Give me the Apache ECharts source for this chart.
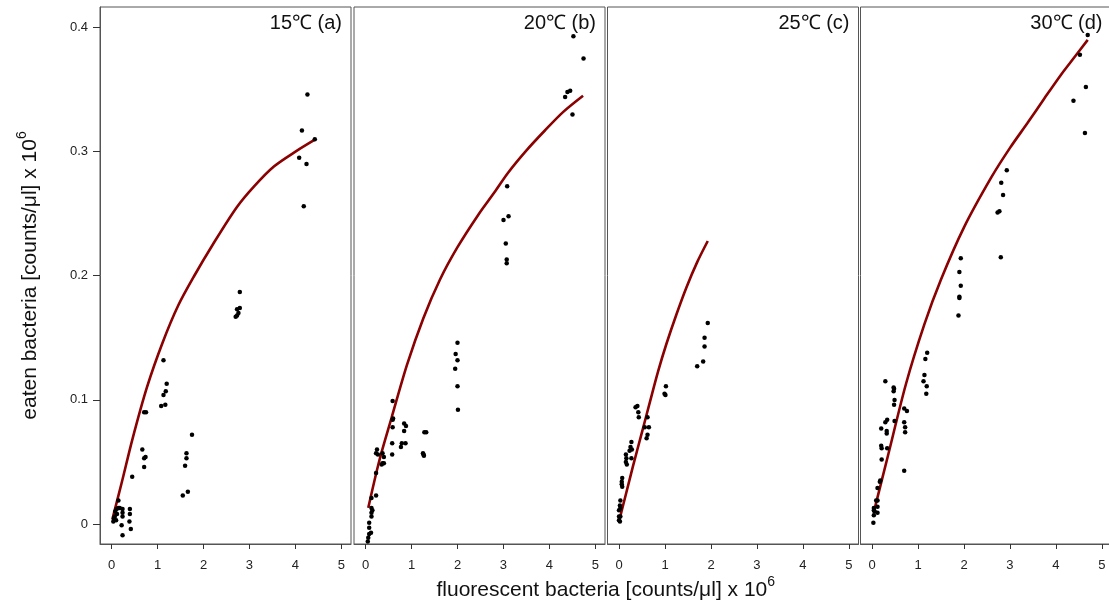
<!DOCTYPE html>
<html>
<head>
<meta charset="utf-8">
<script src="https://cdn.jsdelivr.net/npm/echarts@6/dist/echarts.min.js"></script>
<style>
  html, body { margin: 0; padding: 0; background: #fff; }
  #chart { width: 1109px; height: 607px; }
</style>
</head>
<body>
<div id="chart"></div>
<script>
// Tick positions and labels
const xTicks = [0, 1, 2, 3, 4, 5];
const yTicks = [0, 0.1, 0.2, 0.3, 0.4];
const panelTitles = ['15\u2103 (a)', '20\u2103 (b)', '25\u2103 (c)', '30\u2103 (d)'];

// Observed grazing: [fluorescent bacteria, eaten bacteria] (x 10^6 counts/µl)
const obs15 = [
  [4.26,0.346],[4.14,0.317],[4.42,0.310],[4.08,0.295],[4.24,0.290],[4.18,0.256],
  [2.79,0.187],[2.79,0.174],[2.73,0.173],[2.76,0.170],[2.73,0.168],[2.70,0.167],
  [1.13,0.132],[1.20,0.113],[1.18,0.107],[1.13,0.104],[1.08,0.095],[1.17,0.096],
  [0.71,0.090],[0.75,0.090],[1.75,0.072],[0.67,0.060],[0.71,0.053],[0.74,0.054],[0.71,0.046],
  [1.63,0.057],[1.63,0.053],[1.60,0.047],[1.66,0.026],[1.55,0.023],
  [0.45,0.038],[0.15,0.019],[0.15,0.013],[0.18,0.013],[0.11,0.012],[0.24,0.012],[0.40,0.012],
  [0.24,0.009],[0.40,0.008],[0.24,0.006],[0.39,0.002],[0.22,-0.001],[0.42,-0.004],[0.24,-0.009],
  [0.05,0.004],[0.07,0.006],[0.10,0.003],[0.12,0.008],[0.08,0.010],[0.04,0.002],[0.06,0.005]
];
const obs20 = [
  [4.52,0.393],[4.74,0.375],[4.45,0.349],[4.39,0.348],[4.34,0.344],[4.50,0.330],
  [3.08,0.272],[3.00,0.245],[3.11,0.248],[3.05,0.226],[3.07,0.213],[3.07,0.210],
  [2.00,0.146],[1.96,0.137],[2.00,0.132],[1.95,0.125],[2.00,0.111],[2.01,0.092],
  [0.59,0.099],[0.60,0.085],[0.59,0.084],[0.59,0.078],[0.84,0.081],[0.88,0.079],[0.84,0.075],
  [1.28,0.074],[1.32,0.074],[0.58,0.065],[0.79,0.065],[0.87,0.065],[0.77,0.062],[0.58,0.056],
  [1.25,0.057],[1.27,0.055],[1.26,0.056],[0.25,0.060],[0.23,0.057],[0.27,0.056],[0.37,0.057],[0.40,0.054],
  [0.37,0.049],[0.35,0.048],[0.40,0.049],[0.23,0.041],[0.23,0.023],[0.13,0.021],
  [0.13,0.013],[0.15,0.011],[0.13,0.009],[0.13,0.006],[0.08,0.001],[0.08,-0.003],
  [0.12,-0.007],[0.08,-0.008],[0.06,-0.011],[0.05,-0.014]
];
const obs25 = [
  [1.93,0.162],[1.86,0.150],[1.86,0.143],[1.83,0.131],[1.70,0.127],
  [1.02,0.111],[0.99,0.105],[1.01,0.104],
  [0.36,0.094],[0.40,0.095],[0.42,0.090],[0.43,0.086],[0.62,0.086],[0.56,0.078],[0.65,0.078],
  [0.62,0.072],[0.60,0.069],
  [0.27,0.066],[0.25,0.062],[0.28,0.060],[0.23,0.059],[0.27,0.053],[0.15,0.056],[0.16,0.053],
  [0.15,0.050],[0.17,0.048],
  [0.07,0.037],[0.06,0.034],[0.06,0.032],[0.07,0.030],
  [0.03,0.019],[0.02,0.015],[0.03,0.013],[0.00,0.011],[0.03,0.006],[0.00,0.006],[0.00,0.003],[0.02,0.002]
];
const obs30 = [
  [4.69,0.394],[4.52,0.378],[4.65,0.352],[4.38,0.341],[4.63,0.315],
  [2.93,0.285],[2.81,0.275],[2.85,0.265],[2.73,0.251],[2.77,0.252],[2.80,0.215],
  [1.93,0.214],[1.90,0.203],[1.93,0.192],[1.90,0.183],[1.90,0.182],[1.88,0.168],
  [1.20,0.138],[1.16,0.133],[1.14,0.120],[1.12,0.115],[1.19,0.111],[1.18,0.105],
  [0.29,0.115],[0.47,0.110],[0.48,0.109],[0.47,0.107],[0.49,0.100],[0.48,0.096],[0.70,0.093],[0.76,0.091],
  [0.49,0.083],[0.70,0.082],[0.72,0.078],[0.72,0.074],[0.33,0.084],[0.29,0.082],[0.20,0.077],
  [0.32,0.075],[0.32,0.073],
  [0.20,0.063],[0.21,0.061],[0.33,0.061],[0.21,0.052],[0.70,0.043],[0.18,0.035],[0.17,0.034],[0.12,0.029],
  [0.09,0.019],[0.12,0.019],[0.12,0.014],[0.04,0.013],[0.04,0.011],[0.06,0.010],[0.12,0.009],
  [0.04,0.007],[0.03,0.001]
];

// Fitted functional-response curves
const fit15 = [
  [0.02,0.004],[0.22,0.033],[0.46,0.069],[0.77,0.110],[1.11,0.146],[1.45,0.176],[1.80,0.200],
  [2.20,0.225],[2.72,0.255],[3.10,0.272],[3.53,0.288],[4.00,0.300],[4.44,0.310]
];
const fit20 = [
  [0.06,0.013],[0.30,0.051],[0.57,0.086],[0.90,0.128],[1.26,0.166],[1.62,0.197],[2.00,0.223],
  [2.45,0.249],[2.80,0.267],[3.10,0.283],[3.50,0.301],[3.90,0.317],[4.30,0.332],[4.73,0.345]
];
const fit25 = [
  [0.00,0.002],[0.15,0.024],[0.30,0.046],[0.50,0.074],[0.67,0.098],[0.85,0.123],[1.03,0.145],
  [1.25,0.169],[1.47,0.191],[1.70,0.211],[1.93,0.228]
];
const fit30 = [
  [0.035,0.009],[0.34,0.054],[0.74,0.113],[1.14,0.161],[1.50,0.197],[2.00,0.239],[2.59,0.279],
  [3.00,0.303],[3.38,0.323],[3.75,0.343],[4.11,0.362],[4.40,0.376],[4.69,0.390]
];

const observed = [obs15, obs20, obs25, obs30];
const fitted = [fit15, fit20, fit25, fit30];

// Panel layout
const FONT = 'Liberation Sans, Arial, Helvetica, sans-serif';
const panelLeft = [100, 354, 607.5, 860.5];
const panelWidth = 251;
const panelTop = 7;
const panelHeight = 537;
const X_MIN = -0.25, X_MAX = 5.207;
const Y_MIN = -0.0161, Y_MAX = 0.4165;
const FRAME = '#555';

const chart = echarts.init(document.getElementById('chart'));

// The last panel runs slightly past the right edge of the canvas
const grids = panelLeft.map((l, i) => Object.assign({
  left: l, top: panelTop, width: panelWidth, height: panelHeight,
  show: true, borderColor: FRAME, borderWidth: 1
}, i === 3 ? { outerBoundsMode: 'none' } : {}));

const xAxes = panelLeft.map((_, i) => ({
  gridIndex: i, type: 'value', min: X_MIN, max: X_MAX,
  axisLine: { show: true, onZero: false, lineStyle: { color: FRAME, width: 1 } },
  splitLine: { show: false },
  axisTick: { show: true, length: 5, customValues: xTicks, lineStyle: { color: '#333', width: 1 } },
  axisLabel: { customValues: xTicks, margin: 15, fontSize: 13, color: '#222', fontFamily: FONT }
}));

const yAxes = panelLeft.map((_, i) => i === 0 ? {
  gridIndex: 0, type: 'value', min: Y_MIN, max: Y_MAX,
  axisLine: { show: true, onZero: false, lineStyle: { color: FRAME, width: 1 } },
  splitLine: { show: false },
  axisTick: { show: true, length: 7, customValues: yTicks, lineStyle: { color: '#333', width: 1 } },
  axisLabel: { customValues: yTicks, margin: 12, fontSize: 13, color: '#222', fontFamily: FONT },
  name: '{m|eaten bacteria [counts/\u03bcl] x 10}{s|6}',
  nameLocation: 'middle',
  nameGap: 55,
  nameTextStyle: {
    fontFamily: FONT, color: '#111',
    rich: {
      m: { fontSize: 21, fontFamily: FONT, color: '#111', lineHeight: 30 },
      s: { fontSize: 14, fontFamily: FONT, color: '#111', lineHeight: 13, verticalAlign: 'top' }
    }
  }
} : {
  gridIndex: i, type: 'value', min: Y_MIN, max: Y_MAX, show: false,
  axisLine: { onZero: false }
});

const series = [];
fitted.forEach((pts, i) => {
  series.push({
    type: 'line', xAxisIndex: i, yAxisIndex: i, data: pts,
    showSymbol: false, smooth: 0.3, silent: true, z: 2,
    lineStyle: { color: '#8b0000', width: 2.6 }
  });
});
observed.forEach((pts, i) => {
  series.push({
    type: 'scatter', xAxisIndex: i, yAxisIndex: i, data: pts,
    symbol: 'circle', symbolSize: 4.5, silent: true, z: 3,
    itemStyle: { color: '#000', opacity: 1 }
  });
});

const graphics = panelTitles.map((t, i) => ({
  type: 'text',
  x: panelLeft[i] + 242, y: 23,
  style: { text: t, align: 'right', verticalAlign: 'middle',
           fontSize: 20, fontFamily: FONT, fill: '#111' }
}));
graphics.push({
  type: 'text',
  x: (panelLeft[0] + panelLeft[3] + panelWidth) / 2, y: 590,
  style: {
    text: '{m|fluorescent bacteria [counts/\u03bcl] x 10}{s|6}',
    align: 'center', verticalAlign: 'middle',
    rich: {
      m: { fontSize: 21, fontFamily: FONT, fill: '#111', lineHeight: 30 },
      s: { fontSize: 14, fontFamily: FONT, fill: '#111', lineHeight: 13, verticalAlign: 'top' }
    }
  }
});

chart.setOption({
  animation: false,
  backgroundColor: '#fff',
  grid: grids,
  xAxis: xAxes,
  yAxis: yAxes,
  series: series,
  graphic: graphics
});
</script>
</body>
</html>
